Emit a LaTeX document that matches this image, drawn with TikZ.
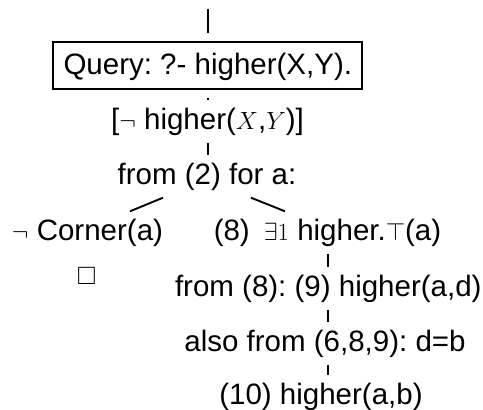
\documentclass[tikz,border=0pt]{standalone}
\usepackage{amssymb}
\usepackage[no-math]{fontspec}
\setmainfont{Liberation Sans}
\begin{document}
\begin{tikzpicture}[x=1pt,y=-1pt,
  lbl/.style={inner sep=0pt,anchor=base,text height=28.5pt,text depth=13.5pt,font=\fontsize{29.5}{35}\selectfont\frenchspacing},
  qbox/.style={draw,line width=2pt,inner sep=0pt,minimum width=309pt,minimum height=47pt,text height=21pt,text depth=4pt,font=\fontsize{29.5}{35}\selectfont\frenchspacing},
  edge/.style={line width=1.9pt}]
\useasboundingbox (0,0) rectangle (483,410);
\coordinate (start) at (207.8,8.5);
\node[qbox] (q) at (207.8,65.5) {Query: ?- higher(X,Y).};
\node[lbl] (neg) at (207.5,129) {[$\neg$ higher($X$,$Y$)]};
\node[lbl] (f2) at (207,184) {from (2) for a:};
\node[lbl] (corner) at (87.5,240) {$\neg$ Corner(a)};
\node[lbl] (ex) at (327.5,240) {(8)\hspace{14pt}$\exists 1$ higher.$\top$(a)};
\node[lbl,font=\fontsize{25}{30}\selectfont] (box) at (86.5,284) {$\square$};
\node[lbl] (f8) at (328.3,296) {from (8): (9) higher(a,d)};
\node[lbl] (also) at (325,351) {also from (6,8,9): d=b};
\node[lbl,text depth=5pt] (ten) at (321,404) {(10) higher(a,b)};

\draw[edge] (start) -- ([yshift=8pt]q.north);
\draw[edge] ([yshift=-8pt]q.south) -- (q.south |- neg.north);
\draw[edge] (q.south |- neg.south) -- (q.south |- f2.north);
\draw[edge] ([xshift=-44pt]f2.south) -- ([xshift=42.5pt]corner.north);
\draw[edge] ([xshift=44pt]f2.south) -- ([xshift=-42.5pt]ex.north);
\draw[edge] (f8.south |- ex.south) -- (f8.north);
\draw[edge] (f8.south) -- (f8.south |- also.north);
\draw[edge] (f8.south |- also.south) -- (f8.south |- ten.north);
\end{tikzpicture}
\end{document}
